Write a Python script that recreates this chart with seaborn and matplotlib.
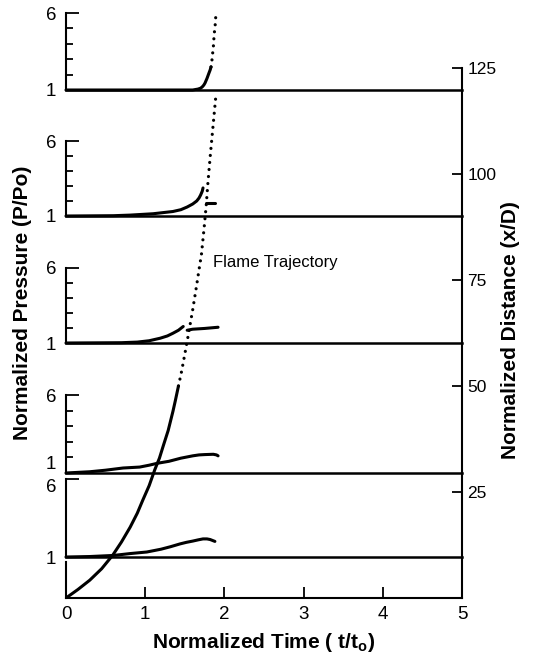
import matplotlib
matplotlib.use("Agg")
import matplotlib.pyplot as plt
import seaborn as sns

sns.set_theme(style="ticks")
plt.rcParams["font.family"] = ["Liberation Sans", "DejaVu Sans"]
plt.rcParams["axes.edgecolor"] = "black"
plt.rcParams["xtick.color"] = "black"
plt.rcParams["ytick.color"] = "black"
plt.rcParams["text.color"] = "black"
plt.rcParams["mathtext.fontset"] = "custom"
plt.rcParams["mathtext.rm"] = "Liberation Sans:bold"
plt.rcParams["mathtext.bf"] = "Liberation Sans:bold"

# ---------------- data ----------------
# flame trajectory (normalized time vs normalized distance)
traj_t_solid = [0.0, 0.15, 0.30, 0.45, 0.59, 0.70, 0.81, 0.90, 0.97, 1.05,
                1.12, 1.18, 1.23, 1.29, 1.35, 1.38, 1.42]
traj_d_solid = [0.0, 2.0, 4.2, 6.9, 10.1, 13.2, 16.7, 20.0, 23.1, 26.5,
                30.2, 33.0, 36.0, 39.5, 44.0, 46.5, 50.0]
traj_t_dot = [1.42, 1.46, 1.50, 1.54, 1.60, 1.65, 1.68, 1.71, 1.745, 1.77,
              1.79, 1.82, 1.845, 1.87, 1.89]
traj_d_dot = [50.0, 53.5, 57.5, 61.6, 68.0, 73.8, 77.5, 81.0, 87.5, 92.5,
              97.5, 104.0, 109.0, 114.0, 118.0]

# pressure traces, panels from top (1) to bottom (5)
p1_t = [0.0, 1.60, 1.667, 1.70, 1.72, 1.74, 1.755, 1.78, 1.805, 1.82, 1.831]
p1_p = [1.0, 1.0, 1.06, 1.12, 1.2, 1.32, 1.45, 1.75, 2.1, 2.3, 2.5]
p1_t_dot = [1.831, 1.840, 1.847, 1.856, 1.865, 1.869, 1.881, 1.894]
p1_p_dot = [2.5, 2.8, 3.14, 3.6, 4.05, 4.57, 5.03, 6.0]

p2_t = [0.0, 0.60, 0.81, 1.10, 1.35, 1.45, 1.53, 1.60, 1.65, 1.68, 1.70,
        1.72, 1.73]
p2_p = [1.0, 1.02, 1.06, 1.15, 1.3, 1.42, 1.6, 1.8, 2.0, 2.2, 2.4, 2.65, 2.87]
p2_t_b = [1.77, 1.88]
p2_p_b = [1.84, 1.84]

p3_t = [0.0, 0.70, 0.90, 1.05, 1.19, 1.28, 1.35, 1.42, 1.48]
p3_p = [1.0, 1.02, 1.06, 1.15, 1.32, 1.47, 1.65, 1.85, 2.1]
p3_t_b = [1.53, 1.60, 1.75, 1.92]
p3_p_b = [1.85, 1.92, 1.97, 2.05]

p4_t = [0.0, 0.30, 0.50, 0.72, 0.93, 1.05, 1.15, 1.30, 1.45, 1.60, 1.68,
        1.75, 1.86, 1.90, 1.92]
p4_p = [1.0, 1.08, 1.18, 1.32, 1.38, 1.5, 1.62, 1.75, 1.95, 2.1, 2.16,
        2.18, 2.2, 2.16, 2.1]

p5_t = [0.0, 0.30, 0.60, 0.81, 1.02, 1.20, 1.32, 1.44, 1.52, 1.60, 1.67,
        1.73, 1.78, 1.82, 1.88]
p5_p = [1.0, 1.03, 1.1, 1.22, 1.32, 1.5, 1.66, 1.84, 1.94, 2.02, 2.1,
        2.16, 2.16, 2.12, 2.0]

x_ticks = [0, 1, 2, 3, 4, 5]
dist_ticks = [25, 50, 75, 100, 125]
p_ticks = [1, 6]
p_ticklabels = ["1", "6"]
p_minor = [2, 3, 4, 5]

# ---------------- layout ----------------
W, H = 540, 657
fig = plt.figure(figsize=(W / 100, H / 100), dpi=100)


def rect(l, t, r, b):
    return [l / W, 1 - b / H, (r - l) / W, (b - t) / H]


DOTS = (0, (0.01, 2.2))

ax = fig.add_axes(rect(66, 68, 462, 598))
ax.set_xlim(0, 5)
ax.set_ylim(0, 125)
ax.patch.set_alpha(0)

sns.lineplot(x=traj_t_solid, y=traj_d_solid, ax=ax, color="black",
             linewidth=2.2, estimator=None, sort=False)
ax.lines[-1].set_solid_joinstyle("round")
sns.lineplot(x=traj_t_dot, y=traj_d_dot, ax=ax, color="black",
             linewidth=2.3, estimator=None, sort=False)
dl = ax.lines[-1]
dl.set_linestyle(DOTS)
dl.set_dash_capstyle("round")

ax.text(1.86, 79.2, "Flame Trajectory", fontsize=12, ha="left", va="center")

ax.spines["top"].set_visible(False)
ax.spines["left"].set_bounds(0, 8.5)
for s in ["left", "right", "bottom"]:
    ax.spines[s].set_linewidth(1.5)
ax.yaxis.tick_right()
ax.set_yticks(dist_ticks)
ax.set_yticklabels([str(v) for v in dist_ticks])
ax.set_xticks(x_ticks)
ax.set_xticklabels([str(v) for v in x_ticks])
ax.tick_params(axis="y", direction="in", length=7, width=1.3, labelsize=12.5, pad=4)
ax.tick_params(axis="x", direction="in", length=8, width=1.3, labelsize=13.5, pad=6)
ax.set_xlabel("")
ax.set_ylabel("")

panels = [
    ((13, 90), [(p1_t, p1_p, "-"), (p1_t_dot, p1_p_dot, ":")], True),
    ((141, 216), [(p2_t, p2_p, "-"), (p2_t_b, p2_p_b, "-")], True),
    ((268, 343), [(p3_t, p3_p, "-"), (p3_t_b, p3_p_b, "-")], True),
    ((395, 473), [(p4_t, p4_p, "-")], True),
    ((479, 557), [(p5_t, p5_p, "-")], False),
]

panel_axes = []
for (top, base), traces, minor in panels:
    pa = fig.add_axes(rect(66, top, 462, base))
    pa.patch.set_alpha(0)
    pa.set_xlim(0, 5)
    pa.set_ylim(1, 6)
    for tx, py, ls in traces:
        sns.lineplot(x=tx, y=py, ax=pa, color="black", linewidth=2.2,
                     estimator=None, sort=False)
        ln = pa.lines[-1]
        ln.set_clip_on(False)
        ln.set_solid_joinstyle("round")
        ln.set_solid_capstyle("round")
        if ls == ":":
            ln.set_linestyle(DOTS)
            ln.set_dash_capstyle("round")
            ln.set_linewidth(2.3)
    pa.spines["top"].set_visible(False)
    pa.spines["right"].set_visible(False)
    pa.spines["left"].set_linewidth(1.5)
    pa.spines["bottom"].set_linewidth(1.8)
    pa.set_xticks([])
    pa.set_yticks(p_ticks)
    pa.set_yticklabels(p_ticklabels)
    if minor:
        pa.set_yticks(p_minor, minor=True)
    pa.tick_params(axis="y", which="major", direction="in", length=9,
                   width=1.3, labelsize=13.5, pad=7)
    pa.tick_params(axis="y", which="minor", direction="in", length=5,
                   width=1.3)
    pa.set_xlabel("")
    pa.set_ylabel("")
    panel_axes.append(pa)

# crowded labels where panels 4 and 5 meet
panel_axes[3].get_yticklabels()[0].set_va("bottom")
panel_axes[4].get_yticklabels()[1].set_va("top")

fig.text(264 / W, 1 - 642 / H, r"Normalized Time ( t/t$_{\mathbf{o}}$)",
         fontsize=15, fontweight="bold", ha="center", va="center")
fig.text(23 / W, 1 - 303 / H, "Normalized Pressure (P/Po)", rotation=90,
         fontsize=15, fontweight="bold", ha="center", va="center")
fig.text(510 / W, 1 - 330 / H, "Normalized Distance (x/D)", rotation=90,
         fontsize=15, fontweight="bold", ha="center", va="center")

fig.savefig("out.png", dpi=100)
